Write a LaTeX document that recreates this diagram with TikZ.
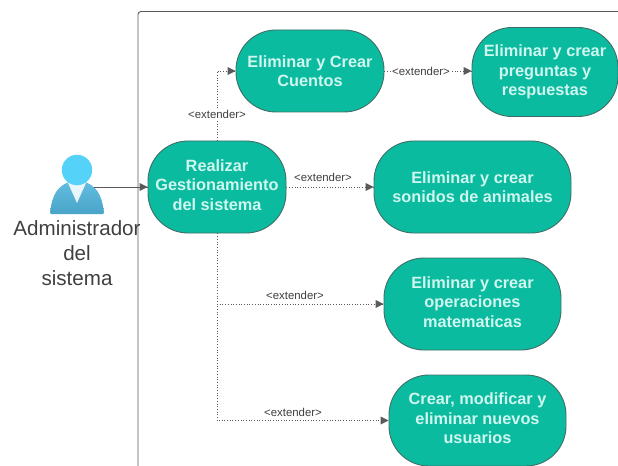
\documentclass[tikz,border=0pt]{standalone}
\usepackage{fontspec}
\setmainfont{Liberation Sans}
\definecolor{verdecaso}{HTML}{0BBBA0}
\definecolor{bordecaso}{HTML}{3F6F68}
\definecolor{textocaso}{HTML}{CFF6EF}
\definecolor{linea}{HTML}{5A5A5A}
\definecolor{cabeza}{HTML}{55D2F7}
\definecolor{cuerpoa}{HTML}{62BDE0}
\definecolor{cuerpob}{HTML}{4AA3C8}

\begin{document}
\begin{tikzpicture}[scale=0.35146]
\tikzstyle{every node}+=[inner sep=0pt]
\tikzstyle{casouso}=[draw=bordecaso,fill=verdecaso,text=textocaso,line width=0.9pt,rounded corners=40pt,align=center,font=\fontsize{16.3}{19.5}\selectfont\bfseries]
\tikzstyle{extiende}=[linea,line width=0.7pt,dotted]
\tikzstyle{etiqueta}=[text=linea!70!black,font=\fontsize{11.4}{13}\selectfont]
\useasboundingbox (0,0) rectangle (61.8,-46.6);
\clip (0,0) rectangle (61.8,-46.6);
\fill [white] (0,0) rectangle (61.8,-46.6);
% marco del sistema
\draw [linea,line width=0.9pt,rounded corners=3pt] (13.8,-48) -- (13.8,-1.15) -- (64,-1.15);
% administrador
\coordinate (adminBrazo) at (9.4,-18.7);
\shade [top color=cuerpoa,bottom color=cuerpob,rounded corners=1pt] (5,-21.4) .. controls (5.2,-19.3) and (5.9,-18.6) .. (6.9,-18.2) -- (8.5,-18.2) .. controls (9.5,-18.6) and (10.2,-19.3) .. (10.4,-21.4) -- cycle;
\fill [white!85!cuerpoa] (6.8,-18.3) -- (8.6,-18.3) -- (7.7,-20.3) -- cycle;
\fill [cabeza] (7.7,-17) circle (1.52);
\draw (7.7,-25.3) node (adminTexto) [font=\fontsize{20.6}{25}\selectfont,text=black!75,align=center] {Administrador\\del\\sistema};
% casos de uso
\draw (21.7,-18.7) node (realizar) [casouso,text depth=4pt,minimum width=138pt,minimum height=92pt] {Realizar\\Gestionamiento\\del sistema};
\draw (31,-7.1) node (cuentos) [casouso,minimum width=148pt,minimum height=82pt] {Eliminar y Crear\\Cuentos};
\draw (54.5,-7.2) node (preguntas) [casouso,minimum width=146pt,minimum height=89pt] {Eliminar y crear\\preguntas y\\respuestas};
\draw (47.25,-18.7) node (sonidos) [casouso,minimum width=197pt,minimum height=92pt] {Eliminar y crear\\sonidos de animales};
\draw (47.25,-30.4) node (operaciones) [casouso,text depth=4pt,minimum width=177pt,minimum height=92pt] {Eliminar y crear\\operaciones\\matematicas};
\draw (47.75,-42.05) node (usuarios) [casouso,text depth=4pt,minimum width=177pt,minimum height=91pt] {Crear, modificar y\\eliminar nuevos\\usuarios};
% conectores
\draw [linea,line width=0.9pt] (adminBrazo) -- (realizar.west);
\fill [linea] (realizar.west) -- ++(-0.8,0.4) -- ++(0,-0.8);
\draw [extiende] (realizar.north) |- (cuentos.west);
\fill [linea] (cuentos.west) -- ++(-0.8,0.4) -- ++(0,-0.8);
\draw [extiende] (cuentos.east) -- (cuentos.east -| preguntas.west);
\fill [linea] (cuentos.east -| preguntas.west) -- ++(-0.8,0.4) -- ++(0,-0.8);
\draw [extiende] (realizar.east) -- (sonidos.west);
\fill [linea] (sonidos.west) -- ++(-0.8,0.4) -- ++(0,-0.8);
\draw [extiende] (realizar.south) |- (usuarios.west);
\fill [linea] (usuarios.west) -- ++(-0.8,0.4) -- ++(0,-0.8);
\draw [extiende] (realizar.south |- operaciones.west) -- (operaciones.west);
\fill [linea] (operaciones.west) -- ++(-0.8,0.4) -- ++(0,-0.8);
% etiquetas
\draw (21.7,-11.4) node (etiquetaCuentos) [etiqueta,fill=white,inner ysep=1pt] {<extender>};
\draw (42.1,-7.1) node (etiquetaPreguntas) [etiqueta,fill=white] {<extender>};
\draw (32.3,-17.75) node (etiquetaSonidos) [etiqueta] {<extender>};
\draw (29.5,-29.55) node (etiquetaOperaciones) [etiqueta] {<extender>};
\draw (29.3,-41.25) node (etiquetaUsuarios) [etiqueta] {<extender>};
\end{tikzpicture}
\end{document}
